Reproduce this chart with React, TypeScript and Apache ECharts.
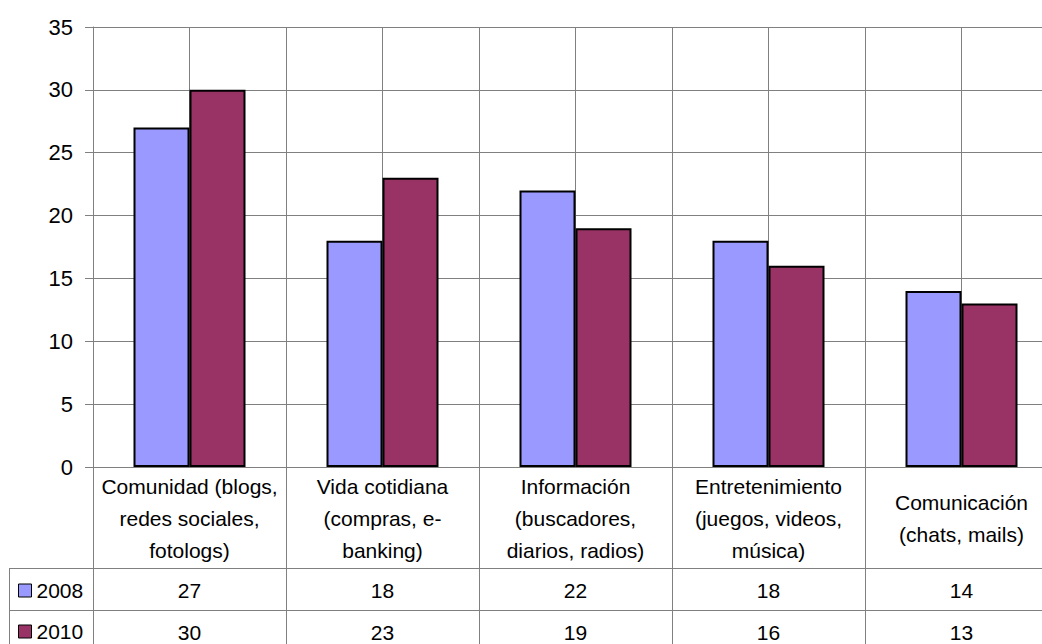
import React, { useEffect, useRef } from "react";
import * as echarts from "echarts";

const categories = [
  "Comunidad (blogs,\nredes sociales,\nfotologs)",
  "Vida cotidiana\n(compras, e-\nbanking)",
  "Información\n(buscadores,\ndiarios, radios)",
  "Entretenimiento\n(juegos, videos,\nmúsica)",
  "Comunicación\n(chats, mails)",
];
const seriesNames = ["2008", "2010"];
const values2008 = [27, 18, 22, 18, 14];
const values2010 = [30, 23, 19, 16, 13];
const yMin = 0;
const yMax = 35;
const yStep = 5;

const FONT = "'Liberation Sans', Arial, sans-serif";
const GRAY = "#808080";

export default function App() {
  const ref = useRef<HTMLDivElement>(null);

  useEffect(() => {
    if (!ref.current) return;
    const chart = echarts.init(ref.current, null, { renderer: "svg" });
    const tableRow = (data: number[], offset: number) => ({
      type: "category",
      data: data.map(String),
      position: "bottom",
      offset,
      axisLine: { show: false },
      axisTick: { show: false },
      splitLine: { show: false },
      axisLabel: {
        interval: 0,
        margin: 0,
        verticalAlign: "middle",
        fontSize: 21,
        color: "#000",
        fontFamily: FONT,
      },
    });
    const legendFor = (name: string, top: number) => ({
      orient: "horizontal",
      left: 13,
      top,
      itemWidth: 13,
      itemHeight: 13,
      icon: "rect",
      selectedMode: false,
      data: [name],
      itemStyle: { borderColor: "#000", borderWidth: 1 },
      textStyle: { fontSize: 21, color: "#000", fontFamily: FONT },
    });
    chart.setOption({
      animation: false,
      textStyle: { fontFamily: FONT },
      grid: { left: 93, top: 27, width: 965, height: 440, containLabel: false },
      legend: [legendFor(seriesNames[0], 575), legendFor(seriesNames[1], 616)],
      xAxis: [
        {
          type: "category",
          data: categories,
          position: "bottom",
          axisLine: { show: true, lineStyle: { color: GRAY, width: 1 } },
          axisTick: { show: true, interval: 0, length: 177, lineStyle: { color: GRAY, width: 1 } },
          splitLine: { show: false },
          axisLabel: {
            interval: 0,
            margin: 51,
            verticalAlign: "middle",
            align: "center",
            lineHeight: 32,
            fontSize: 21,
            color: "#000",
            fontFamily: FONT,
          },
        },
        {
          type: "value",
          min: 0,
          max: 10,
          interval: 1,
          position: "top",
          axisLine: { show: false },
          axisTick: { show: false },
          axisLabel: { show: false },
          splitLine: { show: true, lineStyle: { color: GRAY, width: 1 } },
        },
        tableRow(values2008, 123),
        tableRow(values2010, 165),
      ],
      yAxis: {
        type: "value",
        min: yMin,
        max: yMax,
        interval: yStep,
        axisLine: { show: true, lineStyle: { color: GRAY, width: 1 } },
        axisTick: { show: true, length: 8, lineStyle: { color: GRAY, width: 1 } },
        axisLabel: { fontSize: 22, color: "#000", margin: 20, fontFamily: FONT },
        splitLine: { show: true, lineStyle: { color: GRAY, width: 1 } },
      },
      series: [
        {
          type: "bar",
          name: seriesNames[0],
          data: values2008,
          xAxisIndex: 0,
          barWidth: 56,
          barGap: "0%",
          itemStyle: { color: "#9999FF", borderColor: "#000", borderWidth: 2 },
        },
        {
          type: "bar",
          name: seriesNames[1],
          data: values2010,
          xAxisIndex: 0,
          barWidth: 56,
          barGap: "0%",
          itemStyle: { color: "#993366", borderColor: "#000", borderWidth: 2 },
        },
      ],
      graphic: [
        { type: "line", shape: { x1: 9, y1: 568.5, x2: 1058, y2: 568.5 }, style: { stroke: GRAY, lineWidth: 1 } },
        { type: "line", shape: { x1: 9, y1: 610.5, x2: 1058, y2: 610.5 }, style: { stroke: GRAY, lineWidth: 1 } },
        { type: "line", shape: { x1: 9.5, y1: 568, x2: 9.5, y2: 644 }, style: { stroke: GRAY, lineWidth: 1 } },
      ],
    });
    return () => chart.dispose();
  }, []);

  return (
    <div style={{ position: "fixed", left: 0, top: 0, width: 1042, height: 644, overflow: "hidden", background: "#fff" }}>
      <div ref={ref} style={{ position: "absolute", left: 0, top: 0, width: 1080, height: 644 }} />
    </div>
  );
}
